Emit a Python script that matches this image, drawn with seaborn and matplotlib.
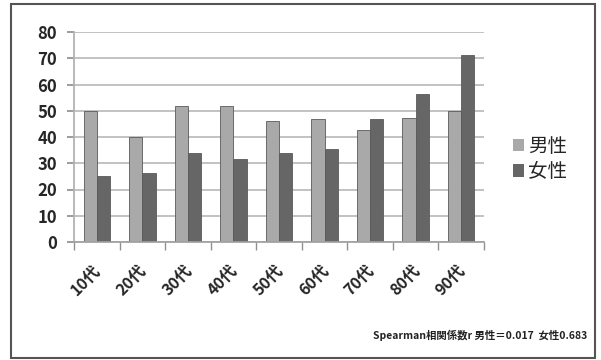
import matplotlib
matplotlib.use("Agg")
import matplotlib.pyplot as plt
import matplotlib.patches as mpatches
import matplotlib.transforms as mtransforms
from matplotlib.ticker import FixedLocator
import seaborn as sns
import pandas as pd

categories = ["10代", "20代", "30代", "40代", "50代", "60代", "70代", "80代", "90代"]
male = [50, 40, 52, 52, 46, 46.7, 42.5, 47.2, 50]
female = [25, 26.3, 34, 31.8, 34, 35.6, 47, 56.2, 71.4]
series = ["男性", "女性"]
yticks = [0, 10, 20, 30, 40, 50, 60, 70, 80]
footer = "Spearman相関係数r 男性＝0.017  女性0.683"

df = pd.DataFrame({
    "age": categories * 2,
    "value": male + female,
    "sex": [series[0]] * len(categories) + [series[1]] * len(categories),
})

sns.set_theme(style="white")
plt.rcParams["font.family"] = ["Noto Sans CJK JP", "DejaVu Sans"]

fig = plt.figure(figsize=(6.01, 3.6), dpi=100)
ax = fig.add_axes([74 / 601, 1 - 242 / 360, 410 / 601, 210 / 360])

palette = {series[0]: "#a9a9a9", series[1]: "#666666"}
sns.barplot(data=df, x="age", y="value", hue="sex", palette=palette,
            width=0.58, gap=0.0, ax=ax, edgecolor="#5a5a5a", linewidth=0.6,
            legend=False)

ax.set_ylim(0, 80)
ax.set_xlim(-0.5, len(categories) - 0.5)
ax.set_yticks(yticks)
ax.set_yticklabels([str(t) for t in yticks], fontsize=12, fontweight="bold",
                   color="#262626")
ax.yaxis.grid(True, color="#b8b8b8", linewidth=1.2)
ax.set_axisbelow(True)
ax.set_xlabel("")
ax.set_ylabel("")
for s in ["top", "right"]:
    ax.spines[s].set_visible(False)
ax.spines["left"].set_color("#b0b0b0")
ax.spines["bottom"].set_color("#a0a0a0")
ax.tick_params(axis="y", length=5, color="#909090", left=True, pad=7)
ax.tick_params(axis="x", length=0, pad=0)
ax.xaxis.set_minor_locator(FixedLocator([i - 0.5 for i in range(len(categories) + 1)]))
ax.tick_params(axis="x", which="minor", length=6, color="#909090", bottom=True)
ax.set_xticks(range(len(categories)))
ax.set_xticklabels(categories, rotation=45, ha="right", rotation_mode="anchor",
                   fontsize=11.5, fontweight="bold", color="#262626")
offset = mtransforms.ScaledTranslation(-4 / 100, -20 / 100, fig.dpi_scale_trans)
for lbl in ax.get_xticklabels():
    lbl.set_transform(lbl.get_transform() + offset)

handles = [mpatches.Patch(facecolor=palette[s], edgecolor="none") for s in series]
fig.legend(handles, series, loc="center left", bbox_to_anchor=(495 / 601, 1 - 159 / 360),
           frameon=False, fontsize=14, handlelength=0.6, handleheight=0.6,
           handletextpad=0.2, labelspacing=0.25)

fig.text(587 / 601, 1 - 335 / 360, footer, ha="right", va="center",
         fontsize=7.5, fontweight="bold", color="#222222")

fig.patches.append(mpatches.Rectangle((11 / 601, 2 / 360), 584 / 601, 354 / 360,
                                      transform=fig.transFigure, fill=False,
                                      edgecolor="#555555", linewidth=1.5))

fig.savefig("out.png", dpi=100)
